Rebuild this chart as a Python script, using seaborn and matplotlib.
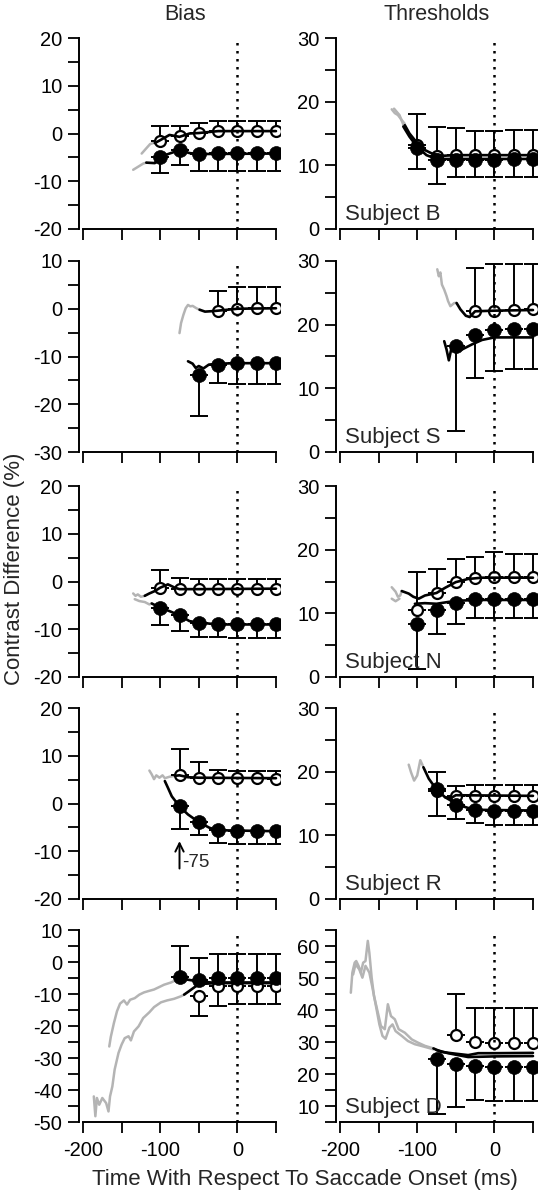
import numpy as np
import matplotlib
matplotlib.use("Agg")
import matplotlib.pyplot as plt
from matplotlib.ticker import MultipleLocator, FixedLocator
import seaborn as sns

sns.set_style("ticks")
plt.rcParams['font.family'] = ['Liberation Sans', 'DejaVu Sans']
plt.rcParams['axes.unicode_minus'] = False

# sample times (ms re saccade onset)
t7 = [-100, -75, -50, -25, 0, 25, 50]
t6 = t7[1:]
t5 = t7[2:]
t4 = t7[3:]

# ---------------- Subject B
b_bias_open = [-1.5, -0.6, 0.2, 0.6, 0.5, 0.6, 0.6]
b_bias_open_bar = [1.6, 1.6, 2.2, 2.6, 2.6, 2.6, 2.6]
b_bias_fill = [-4.9, -3.5, -4.3, -4.1, -4.1, -4.1, -4.1]
b_bias_fill_bar = [-8.3, -6.5, -7.9, -7.9, -7.9, -7.9, -7.9]
b_bias_open_line_t = [-107, -100, -88, -75, -62, -50, -25, 50]
b_bias_open_line = [-2.0, -1.4, -0.3, -0.7, 0.0, 0.1, 0.5, 0.5]
b_bias_fill_line_t = [-118, -107, -100, -88, -75, -62, -50, 50]
b_bias_fill_line = [-6.1, -6.2, -4.9, -4.2, -3.5, -4.1, -4.3, -4.2]
b_bias_gray1_t = [-124, -118, -113, -107]
b_bias_gray1 = [-4.2, -3.1, -2.2, -1.9]
b_bias_gray2_t = [-135, -129, -122, -118]
b_bias_gray2 = [-7.6, -7.0, -6.3, -6.1]

b_thr_open = [13.2, 11.5, 11.6, 11.6, 11.6, 11.6, 11.6]
b_thr_open_bar = [18.0, 16.0, 15.8, 15.4, 15.4, 15.5, 15.5]
b_thr_fill = [12.7, 10.9, 10.9, 10.9, 10.9, 11.0, 11.0]
b_thr_fill_bar = [9.4, 7.1, 8.1, 8.1, 8.1, 8.2, 8.2]
b_thr_open_line_t = [-116, -110, -100, -90, -80, -67, -50, 50]
b_thr_open_line = [16.3, 15.0, 13.5, 12.4, 11.8, 11.5, 11.6, 11.6]
b_thr_fill_line_t = [-118, -110, -100, -88, -75, -50, 50]
b_thr_fill_line = [16.1, 14.5, 12.9, 11.6, 11.0, 11.0, 11.0]
b_thr_gray1_t = [-133, -129, -125, -120, -116]
b_thr_gray1 = [18.8, 18.2, 17.9, 17.1, 16.5]
b_thr_gray2_t = [-130, -123, -118]
b_thr_gray2 = [18.9, 17.9, 16.4]

# ---------------- Subject S
s_bias_open = [-0.4, 0.0, 0.1, 0.1]
s_bias_open_bar = [3.7, 4.5, 4.6, 4.6]
s_bias_fill = [-13.8, -11.7, -11.4, -11.4, -11.4]
s_bias_fill_bar = [-22.5, -15.6, -15.7, -15.7, -15.7]
s_bias_open_line_t = [-49, -42, -32, -25, 0, 50]
s_bias_open_line = [-0.2, -0.6, -0.5, -0.4, 0.0, 0.1]
s_bias_fill_line_t = [-64, -58, -54, -50, -44, -37, -25, 0, 50]
s_bias_fill_line = [-11.0, -11.5, -12.4, -12.0, -12.5, -11.7, -11.5, -11.4, -11.4]
s_bias_gray_t = [-75, -73, -70, -67, -64, -61, -58, -53, -49]
s_bias_gray = [-5.1, -3.0, -1.3, 0.1, 0.8, 0.5, 0.6, 0.1, -0.2]

s_thr_open = [22.1, 22.2, 22.3, 22.4]
s_thr_open_bar = [28.9, 29.5, 29.6, 29.6]
s_thr_fill = [16.6, 18.3, 19.1, 19.3, 19.3]
s_thr_fill_bar = [3.3, 11.7, 12.8, 13.1, 13.1]
s_thr_open_line_t = [-49, -44, -37, -32, -25, 0, 50]
s_thr_open_line = [23.4, 22.4, 21.4, 21.2, 22.1, 22.2, 22.3]
s_thr_fill_line_t = [-65, -62, -59, -56, -50, -42, -29, -16, 0, 50]
s_thr_fill_line = [17.4, 16.1, 14.4, 16.1, 16.6, 16.1, 16.9, 17.6, 18.0, 18.0]
s_thr_gray_t = [-74, -72, -70, -68, -65, -62, -60, -57, -52, -49]
s_thr_gray = [28.7, 27.6, 28.2, 26.3, 25.5, 24.5, 23.7, 22.9, 23.4, 23.4]

# ---------------- Subject N
n_bias_open = [-1.3, -1.6, -1.6, -1.6, -1.5, -1.5, -1.5]
n_bias_open_bar = [2.4, 0.8, 0.5, 0.5, 0.6, 0.6, 0.6]
n_bias_fill = [-5.5, -7.1, -8.6, -9.0, -9.0, -9.0, -9.0]
n_bias_fill_bar = [-9.1, -10.4, -11.6, -11.6, -11.9, -11.8, -11.8]
n_bias_open_line_t = [-120, -114, -107, -100, -90, -81, -75, -50, 50]
n_bias_open_line = [-3.0, -2.5, -2.0, -1.3, -0.6, -1.3, -1.6, -1.6, -1.5]
n_bias_fill_line_t = [-111, -100, -88, -75, -62, -50, -25, 50]
n_bias_fill_line = [-4.6, -5.5, -6.2, -7.1, -8.3, -8.6, -9.0, -9.0]
n_bias_gray1_t = [-135, -132, -129, -125, -120]
n_bias_gray1 = [-2.5, -3.0, -2.7, -3.2, -3.0]
n_bias_gray2_t = [-133, -127, -120, -114, -111]
n_bias_gray2 = [-3.7, -4.1, -4.3, -4.8, -4.6]

n_thr_open = [10.5, 13.2, 14.9, 15.6, 15.7, 15.7, 15.7]
n_thr_open_bar = [16.5, 17.0, 18.6, 18.8, 19.6, 19.3, 19.3]
n_thr_fill = [8.3, 10.6, 11.7, 12.3, 12.3, 12.3, 12.3]
n_thr_fill_bar = [1.3, 6.8, 8.3, 9.2, 9.2, 9.2, 9.2]
n_thr_open_line_t = [-120, -111, -105, -98, -90, -75, -64, -50, -34, -16, 50]
n_thr_open_line = [13.5, 13.1, 12.6, 12.3, 12.8, 13.2, 14.0, 14.9, 15.4, 15.6, 15.6]
n_thr_fill_line_t = [-103, -90, -75, -59, -42, -25, 50]
n_thr_fill_line = [11.5, 11.6, 11.5, 11.8, 12.0, 12.1, 12.1]
n_thr_gray1_t = [-133, -128, -125, -122, -120]
n_thr_gray1 = [14.1, 13.4, 12.6, 12.8, 13.5]
n_thr_gray2_t = [-133, -128, -123]
n_thr_gray2 = [12.3, 11.9, 12.3]

# ---------------- Subject R
r_bias_open = [5.9, 5.4, 5.3, 5.3, 5.3, 5.2]
r_bias_open_bar = [11.4, 8.6, 7.0, 6.9, 6.9, 6.9]
r_bias_fill = [-0.6, -3.9, -5.6, -5.8, -5.8, -5.8]
r_bias_fill_bar = [-5.3, -6.7, -8.3, -8.5, -8.5, -8.5]
r_bias_open_line_t = [-81, -75, -64, -50, 50]
r_bias_open_line = [5.8, 5.9, 5.5, 5.4, 5.3]
r_bias_fill_line_t = [-94, -90, -85, -75, -64, -50, -36, -25, 50]
r_bias_fill_line = [4.7, 3.3, 1.5, -0.6, -2.3, -3.9, -5.1, -5.6, -5.8]
r_bias_gray_t = [-114, -111, -108, -105, -101, -97, -94, -88, -81]
r_bias_gray = [6.9, 6.1, 5.1, 5.9, 5.4, 5.9, 5.3, 5.6, 5.8]

r_thr_open = [17.0, 16.2, 16.2, 16.2, 16.2, 16.2]
r_thr_open_bar = [20.0, 17.8, 17.9, 17.9, 17.9, 17.9]
r_thr_fill = [17.2, 14.7, 14.0, 13.8, 13.8, 13.8]
r_thr_fill_bar = [13.0, 12.6, 11.9, 11.6, 11.6, 11.6]
r_thr_open_line_t = [-92, -85, -75, -64, -57, -50, 50]
r_thr_open_line = [20.7, 18.9, 17.2, 16.0, 15.8, 16.3, 16.2]
r_thr_fill_line_t = [-64, -57, -50, -34, -16, 50]
r_thr_fill_line = [16.0, 15.5, 14.9, 14.3, 14.0, 13.9]
r_thr_gray_t = [-111, -108, -104, -100, -96, -93]
r_thr_gray = [21.1, 19.9, 18.6, 19.4, 21.8, 21.0]

# ---------------- Subject D
d_bias_fill = [-4.8, -5.5, -5.0, -5.0, -5.0, -5.0]
d_bias_fill_bar = [5.1, 1.3, 2.6, 2.6, 2.6, 2.6]
d_bias_open = [-10.7, -7.6, -7.6, -7.6, -7.6]
d_bias_open_bar = [-16.8, -13.9, -13.0, -13.0, -13.0]
d_bias_fill_line_t = [-75, -65, -52, -34, 50]
d_bias_fill_line = [-4.8, -5.5, -6.0, -6.4, -6.4]
d_bias_open_line_t = [-69, -62, -54, -43, -26, 50]
d_bias_open_line = [-10.2, -9.0, -7.6, -6.8, -6.6, -6.6]
d_bias_gray1_t = [-166, -164, -160, -156, -152, -147, -143, -139, -133, -127,
                  -121, -114, -108, -101, -95, -86, -78, -75]
d_bias_gray1 = [-26.4, -23.4, -19.1, -15.4, -13.0, -12.0, -13.3, -11.8, -11.3, -10.2,
                -9.5, -9.0, -8.6, -7.8, -7.1, -6.4, -5.5, -4.8]
d_bias_gray2_t = [-186, -184, -182, -179, -175, -170, -167, -165, -162, -159, -154, -150,
                  -146, -141, -138, -134, -128, -122, -114, -108, -99, -91, -82, -73, -69]
d_bias_gray2 = [-42.0, -48.2, -42.5, -44.6, -42.5, -44.1, -46.7, -42.0, -38.9, -33.6, -28.4,
                -25.8, -23.8, -23.2, -24.5, -21.7, -20.1, -17.5, -15.7, -14.1, -12.6, -12.0,
                -11.5, -10.7, -10.2]

d_thr_fill = [24.8, 23.0, 22.5, 22.3, 22.3, 22.2]
d_thr_fill_bar = [7.6, 9.7, 11.8, 11.6, 11.6, 11.6]
d_thr_open = [32.2, 30.1, 29.8, 29.8, 29.8]
d_thr_open_bar = [45.1, 40.7, 40.5, 40.5, 40.5]
d_thr_open_line_t = [-79, -69, -52, -34, -21, 0, 50]
d_thr_open_line = [28.0, 26.9, 26.4, 25.9, 26.5, 26.5, 26.6]
d_thr_fill_line_t = [-75, -60, -34, 0, 50]
d_thr_fill_line = [27.5, 26.5, 25.3, 25.5, 25.6]
d_thr_gray1_t = [-186, -184, -181, -179, -176, -173, -170, -167, -164, -162, -159, -156,
                 -151, -147, -142, -138, -134, -129, -124, -116, -107, -99, -90, -79]
d_thr_gray1 = [45.4, 51.7, 54.8, 55.3, 53.8, 51.7, 54.8, 55.3, 61.6, 57.9, 50.1, 44.4,
               39.2, 35.0, 34.0, 41.8, 38.1, 37.1, 34.0, 32.9, 30.8, 29.8, 28.8, 28.0]
d_thr_gray2_t = [-183, -180, -175, -171, -167, -162, -158, -153, -149, -145, -141, -136,
                 -132, -128, -120, -112, -103, -95, -86, -79]
d_thr_gray2 = [51.1, 54.3, 52.7, 50.1, 53.8, 51.7, 47.0, 40.7, 35.5, 31.9, 31.0, 34.5,
               35.5, 33.4, 31.9, 30.3, 29.3, 28.8, 28.2, 27.7]

subjects = ['B', 'S', 'N', 'R', 'D']
bias_ylims = [(-20, 20), (-30, 10), (-20, 20), (-20, 20), (-50, 10)]
thr_ylims = [(0, 30), (0, 30), (0, 30), (0, 30), (5, 65)]

# (points, black lines, gray traces) per panel
bias_panels = [
    ([(t7, b_bias_open, b_bias_open_bar, False), (t7, b_bias_fill, b_bias_fill_bar, True)],
     [(b_bias_open_line_t, b_bias_open_line), (b_bias_fill_line_t, b_bias_fill_line)],
     [(b_bias_gray1_t, b_bias_gray1), (b_bias_gray2_t, b_bias_gray2)]),
    ([(t4, s_bias_open, s_bias_open_bar, False), (t5, s_bias_fill, s_bias_fill_bar, True)],
     [(s_bias_open_line_t, s_bias_open_line), (s_bias_fill_line_t, s_bias_fill_line)],
     [(s_bias_gray_t, s_bias_gray)]),
    ([(t7, n_bias_open, n_bias_open_bar, False), (t7, n_bias_fill, n_bias_fill_bar, True)],
     [(n_bias_open_line_t, n_bias_open_line), (n_bias_fill_line_t, n_bias_fill_line)],
     [(n_bias_gray1_t, n_bias_gray1), (n_bias_gray2_t, n_bias_gray2)]),
    ([(t6, r_bias_open, r_bias_open_bar, False), (t6, r_bias_fill, r_bias_fill_bar, True)],
     [(r_bias_open_line_t, r_bias_open_line), (r_bias_fill_line_t, r_bias_fill_line)],
     [(r_bias_gray_t, r_bias_gray)]),
    ([(t5, d_bias_open, d_bias_open_bar, False), (t6, d_bias_fill, d_bias_fill_bar, True)],
     [(d_bias_open_line_t, d_bias_open_line), (d_bias_fill_line_t, d_bias_fill_line)],
     [(d_bias_gray1_t, d_bias_gray1), (d_bias_gray2_t, d_bias_gray2)]),
]
thr_panels = [
    ([(t7, b_thr_open, b_thr_open_bar, False), (t7, b_thr_fill, b_thr_fill_bar, True)],
     [(b_thr_open_line_t, b_thr_open_line), (b_thr_fill_line_t, b_thr_fill_line)],
     [(b_thr_gray1_t, b_thr_gray1), (b_thr_gray2_t, b_thr_gray2)]),
    ([(t4, s_thr_open, s_thr_open_bar, False), (t5, s_thr_fill, s_thr_fill_bar, True)],
     [(s_thr_open_line_t, s_thr_open_line), (s_thr_fill_line_t, s_thr_fill_line)],
     [(s_thr_gray_t, s_thr_gray)]),
    ([(t7, n_thr_open, n_thr_open_bar, False), (t7, n_thr_fill, n_thr_fill_bar, True)],
     [(n_thr_open_line_t, n_thr_open_line), (n_thr_fill_line_t, n_thr_fill_line)],
     [(n_thr_gray1_t, n_thr_gray1), (n_thr_gray2_t, n_thr_gray2)]),
    ([(t6, r_thr_open, r_thr_open_bar, False), (t6, r_thr_fill, r_thr_fill_bar, True)],
     [(r_thr_open_line_t, r_thr_open_line), (r_thr_fill_line_t, r_thr_fill_line)],
     [(r_thr_gray_t, r_thr_gray)]),
    ([(t5, d_thr_open, d_thr_open_bar, False), (t6, d_thr_fill, d_thr_fill_bar, True)],
     [(d_thr_open_line_t, d_thr_open_line), (d_thr_fill_line_t, d_thr_fill_line)],
     [(d_thr_gray1_t, d_thr_gray1), (d_thr_gray2_t, d_thr_gray2)]),
]


def draw_panel(ax, ylim, panel, bottom_row):
    pts, lines, grays = panel
    for gt, gv in grays:
        sns.lineplot(x=gt, y=gv, ax=ax, color='#b4b4b4', lw=1.8, sort=False,
                     estimator=None, zorder=1.5)
    for t, v, bar, filled in pts:
        v = np.array(v)
        bar = np.array(bar)
        yerr = [np.clip(v - bar, 0, None), np.clip(bar - v, 0, None)]
        ax.errorbar(t, v, yerr=yerr, fmt='none', ecolor='black', elinewidth=1.4,
                    capsize=6.8, capthick=1.4, zorder=2)
    for t, v, bar, filled in pts:
        if filled:
            sns.scatterplot(x=t, y=v, ax=ax, s=100, color='black', edgecolor='black',
                            linewidth=0.5, zorder=3)
        else:
            sns.scatterplot(x=t, y=v, ax=ax, s=62, color='white', edgecolor='black',
                            linewidth=1.6, zorder=3)
    for lt, lv in lines:
        sns.lineplot(x=lt, y=lv, ax=ax, color='black', lw=1.9, sort=False,
                     estimator=None, zorder=4)
    ax.axvline(0, color='black', lw=1.8, ls=(0, (1, 2.2)), zorder=5)

    ax.set_xlim(-205.2, 55.2)
    ax.set_ylim(*ylim)
    ax.xaxis.set_major_locator(FixedLocator([-200, -100, 0]))
    ax.xaxis.set_minor_locator(FixedLocator([-150, -50, 50]))
    ax.yaxis.set_major_locator(MultipleLocator(10))
    ax.yaxis.set_minor_locator(MultipleLocator(5))
    ax.tick_params(which='both', direction='out', length=8, width=1.3,
                   labelsize=14.5, pad=4, colors='black')
    ax.tick_params(axis='x', which='both', labelbottom=bottom_row, pad=6)
    sns.despine(ax=ax)
    ax.spines['bottom'].set_bounds(-200, 50)
    for sp in ('left', 'bottom'):
        ax.spines[sp].set_linewidth(1.4)
        ax.spines[sp].set_color('black')
    ax.set_xlabel('')
    ax.set_ylabel('')


fig = plt.figure(figsize=(5.52, 11.99), dpi=100)
W, H = 552.0, 1199.0
tops = [38, 261, 486, 708, 930]
bottoms = [229, 452, 677, 899, 1122]

for i in range(5):
    h = (bottoms[i] - tops[i]) / H
    y0 = 1 - bottoms[i] / H
    axl = fig.add_axes([79 / W, y0, 201 / W, h])
    axr = fig.add_axes([336 / W, y0, 201 / W, h])
    draw_panel(axl, bias_ylims[i], bias_panels[i], i == 4)
    draw_panel(axr, thr_ylims[i], thr_panels[i], i == 4)
    axr.text(0.045, 0.045, 'Subject ' + subjects[i], transform=axr.transAxes,
             fontsize=16, ha='left', va='baseline', zorder=6)
    if i == 3:
        axl.annotate('', xy=(-75, -7.3), xytext=(-75, -14.2),
                     arrowprops=dict(arrowstyle='->,head_length=0.6,head_width=0.3',
                                     color='black', lw=1.4))
        axl.text(-71, -12.4, '-75', fontsize=13.5, ha='left', va='center')

fig.text(185 / W, 1 - 15 / H, 'Bias', fontsize=15.5, ha='center', va='center')
fig.text(437 / W, 1 - 15 / H, 'Thresholds', fontsize=15.5, ha='center', va='center')
fig.text(0.027, 0.526, 'Contrast Difference (%)', fontsize=16, rotation=90,
         ha='center', va='center')
fig.text(0.553, 1 - 1180 / H, 'Time With Respect To Saccade Onset (ms)', fontsize=16,
         ha='center', va='center')

fig.savefig('out.png', dpi=100, facecolor='white')
